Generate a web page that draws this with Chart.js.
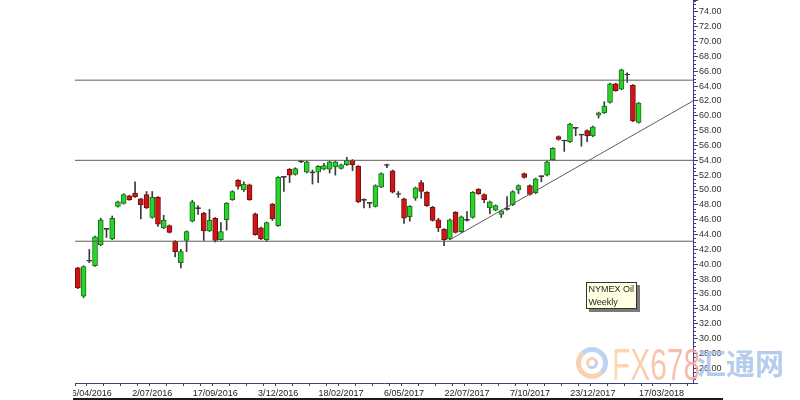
<!DOCTYPE html>
<html>
<head>
<meta charset="utf-8">
<title>NYMEX Oil Weekly</title>
<script src="https://cdn.jsdelivr.net/npm/chart.js@4.4.1/dist/chart.umd.min.js"></script>
<style>
    body { margin: 0; width: 800px; height: 400px; overflow: hidden; position: relative; background: #fff; font-family: "Liberation Sans", Arial, sans-serif; }
    .chart-wrap { position: absolute; left: 73px; top: 0; width: 727px; height: 400px; }
    .bottom-bar { position: absolute; left: 73px; top: 398px; width: 650px; height: 2px; background: #1a1a1a; }
    .note { position: absolute; left: 586px; top: 282px; width: 51px; height: 27px; box-sizing: border-box; background: #ffffe1; border: 1px solid #333; box-shadow: 3px 3px 0 #7a7a7a; padding-left: 1.5px; font-size: 9px; line-height: 12.6px; color: #1e1e1e; }
    .wm-logo { position: absolute; left: 576px; top: 347px; width: 32px; height: 32px; box-sizing: border-box; border-radius: 50%; border: 5px solid; border-color: #a9c4ec #a9c4ec #f6c29c #f6c29c; opacity: 0.75; }
    .wm-logo::after { content: ''; position: absolute; left: 5px; top: 5px; width: 12px; height: 12px; box-sizing: border-box; border-radius: 50%; border: 3px solid; border-color: #f6c29c #a9c4ec #a9c4ec #f6c29c; }
    .wm-fx { position: absolute; left: 612px; top: 343px; font-size: 44px; line-height: 44px; transform: scaleX(0.68); transform-origin: left top; background: linear-gradient(90deg, #fcd6a6, #f7a39c); -webkit-background-clip: text; background-clip: text; color: transparent; opacity: 0.85; }
    .wm-cn { position: absolute; left: 697px; top: 348px; font-family: "Noto Sans CJK SC", sans-serif; font-weight: bold; font-size: 29px; line-height: 29px; color: #aac3ea; opacity: 0.85; }
</style>
</head>
<body>
<div class="chart-wrap"><canvas id="oilChart"></canvas></div>
<div class="bottom-bar"></div>
<div class="note">NYMEX Oil<br>Weekly</div>
<div class="wm-logo"></div>
<div class="wm-fx">FX678</div>
<div class="wm-cn">汇通网</div>
<script>
// weekly candles, first week ends 2/04/2016
const open = [
    39.5, 35.7, 40.4, 39.8, 42.6, 44.7, 43.4, 47.8, 48.2, 49.2,
    49.6, 48.8, 49.4, 46.3, 49.0, 44.9, 45.2, 43.1, 40.2, 43.2,
    45.8, 47.5, 46.9, 44.5, 46.2, 43.3, 46.0, 48.7, 51.3, 50.0,
    50.7, 46.8, 44.9, 43.3, 48.1, 45.2, 51.7, 52.8, 52.1, 53.8,
    52.4, 52.3, 52.4, 52.8, 52.8, 53.1, 52.9, 53.4, 54.0, 53.2,
    48.6, 48.2, 47.8, 50.4, 53.3, 52.6, 49.4, 48.8, 46.4, 48.9,
    51.0, 49.7, 47.7, 46.0, 44.7, 43.4, 47.0, 44.4, 45.9, 46.3,
    50.1, 49.4, 47.6, 47.3, 46.7, 47.4, 48.0, 50.0, 52.2, 50.6,
    49.6, 51.8, 52.0, 54.1, 57.2, 56.6, 56.5, 58.3, 57.4, 58.0,
    57.3, 60.1, 60.4, 61.8, 64.3, 63.6, 65.5, 64.1, 59.1
];
const high = [
    39.6, 39.8, 42.0, 43.8, 46.2, 44.8, 46.5, 48.5, 49.5, 49.3,
    51.1, 48.9, 49.8, 49.8, 49.1, 46.6, 45.3, 43.2, 42.0, 44.5,
    48.6, 47.9, 47.0, 47.4, 46.3, 45.6, 48.3, 49.9, 51.4, 51.1,
    50.8, 46.9, 45.0, 45.7, 48.2, 51.8, 51.8, 52.9, 53.0, 54.0,
    53.9, 52.7, 53.3, 53.6, 53.9, 53.9, 53.5, 54.4, 54.1, 53.3,
    48.8, 48.3, 50.7, 52.3, 53.5, 52.7, 49.8, 48.9, 47.9, 50.4,
    51.3, 49.8, 47.8, 46.2, 44.8, 46.1, 47.1, 46.5, 47.1, 49.8,
    50.2, 49.5, 48.5, 48.0, 47.3, 49.1, 49.9, 50.7, 52.3, 50.7,
    51.6, 51.9, 53.9, 55.7, 57.3, 56.7, 59.0, 58.4, 57.5, 58.1,
    58.6, 60.5, 61.9, 64.4, 64.4, 66.3, 65.8, 64.2, 61.8
];
const low = [
    36.7, 35.5, 40.2, 39.7, 42.5, 43.6, 43.3, 47.7, 48.1, 48.6,
    49.0, 46.1, 47.5, 46.2, 45.1, 44.8, 44.2, 41.0, 39.5, 41.7,
    45.7, 46.7, 43.2, 44.4, 43.0, 43.2, 44.6, 48.6, 50.1, 49.8,
    48.6, 43.9, 43.3, 43.1, 45.9, 45.1, 49.8, 51.0, 52.0, 53.7,
    52.3, 50.8, 51.0, 52.7, 52.3, 52.0, 52.8, 53.3, 52.6, 48.3,
    47.6, 47.6, 47.7, 50.3, 53.0, 49.6, 49.0, 45.5, 45.8, 48.6,
    48.9, 47.8, 45.8, 44.4, 42.5, 43.3, 44.2, 44.3, 45.8, 46.2,
    49.4, 48.3, 46.8, 47.2, 46.3, 47.3, 47.9, 49.5, 51.6, 49.3,
    49.5, 51.1, 51.9, 54.0, 56.7, 55.2, 56.4, 57.3, 55.9, 56.5,
    57.2, 59.7, 60.3, 61.7, 63.3, 63.5, 64.5, 59.2, 59.0
];
const close = [
    36.8, 39.7, 40.4, 43.7, 46.0, 44.7, 46.2, 48.4, 49.4, 48.7,
    49.1, 48.0, 47.6, 49.0, 45.4, 45.9, 44.3, 41.7, 41.7, 44.4,
    48.4, 47.5, 44.5, 45.9, 43.2, 44.4, 48.2, 49.8, 50.5, 50.8,
    48.7, 44.0, 43.4, 45.6, 46.1, 51.7, 51.7, 52.0, 52.9, 53.8,
    53.8, 52.3, 53.2, 53.3, 53.8, 53.8, 53.4, 54.0, 53.4, 48.4,
    48.6, 48.2, 50.6, 52.2, 53.3, 49.7, 49.4, 46.2, 47.8, 50.3,
    49.8, 47.9, 45.9, 44.9, 43.3, 46.0, 44.3, 46.4, 45.9, 49.7,
    49.5, 48.7, 48.4, 47.9, 47.2, 47.4, 49.8, 50.6, 51.7, 49.4,
    51.5, 51.8, 53.8, 55.6, 56.8, 56.6, 58.9, 58.3, 57.4, 57.3,
    58.5, 60.4, 61.3, 64.3, 63.4, 66.2, 65.5, 59.3, 61.7
];

const tickLabels = ['16/04/2016', '2/07/2016', '17/09/2016', '3/12/2016', '18/02/2017',
    '6/05/2017', '22/07/2017', '7/10/2017', '23/12/2017', '17/03/2018'];

// horizontal support / resistance levels and the rising trend line (week index, price)
const levels = [64.8, 54.0, 43.1];
const trendWeeks = [65, 107.5];
const trendPrices = [43.3, 62.0];

const weekCount = 108;
const weeks = [];
for (let i = 0; i < weekCount; i++) {
    const d = new Date(2016, 3, 2 + 7 * i);
    weeks.push(d.getDate() + '/' + String(d.getMonth() + 1).padStart(2, '0') + '/' + d.getFullYear());
}

const axisColor = '#3d3d85';
const upColor = '#28d428';
const downColor = '#d21414';
const dojiColor = '#2e2e2e';

function candleColor(i, up, down) {
    if (close[i] > open[i]) return up;
    if (close[i] < open[i]) return down;
    return dojiColor;
}

function isMajorWeek(v) {
    return Number.isInteger(v) && tickLabels.includes(weeks[v]);
}

const minorTicks = {
    id: 'minorTicks',
    afterDraw(chart) {
        const ctx = chart.ctx;
        const y = chart.scales.y;
        ctx.save();
        ctx.strokeStyle = axisColor;
        ctx.lineWidth = 1;
        ctx.beginPath();
        for (let v = 24.5; v < y.max; v += 0.5) {
            if (v % 2 === 0) continue;
            const py = Math.round(y.getPixelForValue(v)) + 0.5;
            ctx.moveTo(y.left, py);
            ctx.lineTo(y.left + 3, py);
        }
        ctx.stroke();
        ctx.restore();
    }
};

document.addEventListener('DOMContentLoaded', function () {
    const font = { family: '"Liberation Sans", Arial, sans-serif', size: 9 };

    const lineSets = levels.map(v => ({
        type: 'line',
        data: [{ x: -0.5, y: v }, { x: weekCount - 0.5, y: v }],
        borderColor: '#5e5e5e',
        borderWidth: 1,
        pointRadius: 0,
        order: 0
    }));
    lineSets.push({
        type: 'line',
        data: trendWeeks.map((w, i) => ({ x: w, y: trendPrices[i] })),
        borderColor: '#5e5e5e',
        borderWidth: 1,
        pointRadius: 0,
        order: 0
    });

    new Chart(document.getElementById('oilChart'), {
        type: 'bar',
        data: {
            datasets: [{
                data: low.map((l, i) => ({ x: i, y: [l, high[i]] })),
                backgroundColor: '#3a3a3a',
                barThickness: 1,
                grouped: false,
                order: 2
            }, {
                data: open.map((o, i) => ({ x: i, y: [o, close[i]] })),
                backgroundColor: open.map((o, i) => candleColor(i, upColor, downColor)),
                borderColor: open.map((o, i) => candleColor(i, '#1d6b1d', '#6e1010')),
                borderWidth: 1,
                borderSkipped: false,
                barThickness: 5,
                minBarLength: 1,
                grouped: false,
                order: 1
            }, ...lineSets]
        },
        options: {
            responsive: true,
            maintainAspectRatio: false,
            animation: false,
            layout: { padding: { left: 2, right: 0, top: 0, bottom: 0 } },
            plugins: {
                legend: { display: false },
                tooltip: { enabled: false }
            },
            scales: {
                x: {
                    type: 'linear',
                    min: -0.5,
                    max: weekCount - 0.5,
                    offset: false,
                    afterBuildTicks: s => { s.ticks = weeks.map((w, i) => ({ value: i })); },
                    ticks: {
                        autoSkip: false,
                        maxRotation: 0,
                        padding: 2,
                        color: '#222',
                        font: font,
                        callback: v => isMajorWeek(v) ? weeks[v] : ''
                    },
                    grid: {
                        drawOnChartArea: false,
                        tickLength: 3,
                        tickColor: ctx => {
                            const v = ctx.tick ? ctx.tick.value : -1;
                            const k = ((v - 2) % 11 + 11) % 11;
                            return Number.isInteger(v) && [0, 3, 6, 9].includes(k) ? axisColor : 'rgba(0,0,0,0)';
                        }
                    },
                    border: { color: axisColor },
                    afterFit: s => { s.height = 17; s.paddingLeft = 0; s.paddingRight = 0; }
                },
                y: {
                    position: 'right',
                    min: 24,
                    max: 75.6,
                    ticks: {
                        stepSize: 2,
                        autoSkip: false,
                        padding: 1,
                        color: '#333',
                        font: font,
                        callback: v => (v >= 26 && v <= 74 && Math.abs(v % 2) < 1e-6) ? v.toFixed(2) : ''
                    },
                    grid: {
                        drawOnChartArea: false,
                        tickLength: 5,
                        tickColor: axisColor
                    },
                    border: { color: axisColor },
                    afterFit: s => { s.width = 107; s.paddingTop = 0; s.paddingBottom = 0; }
                }
            }
        },
        plugins: [minorTicks]
    });
});
</script>
</body>
</html>
